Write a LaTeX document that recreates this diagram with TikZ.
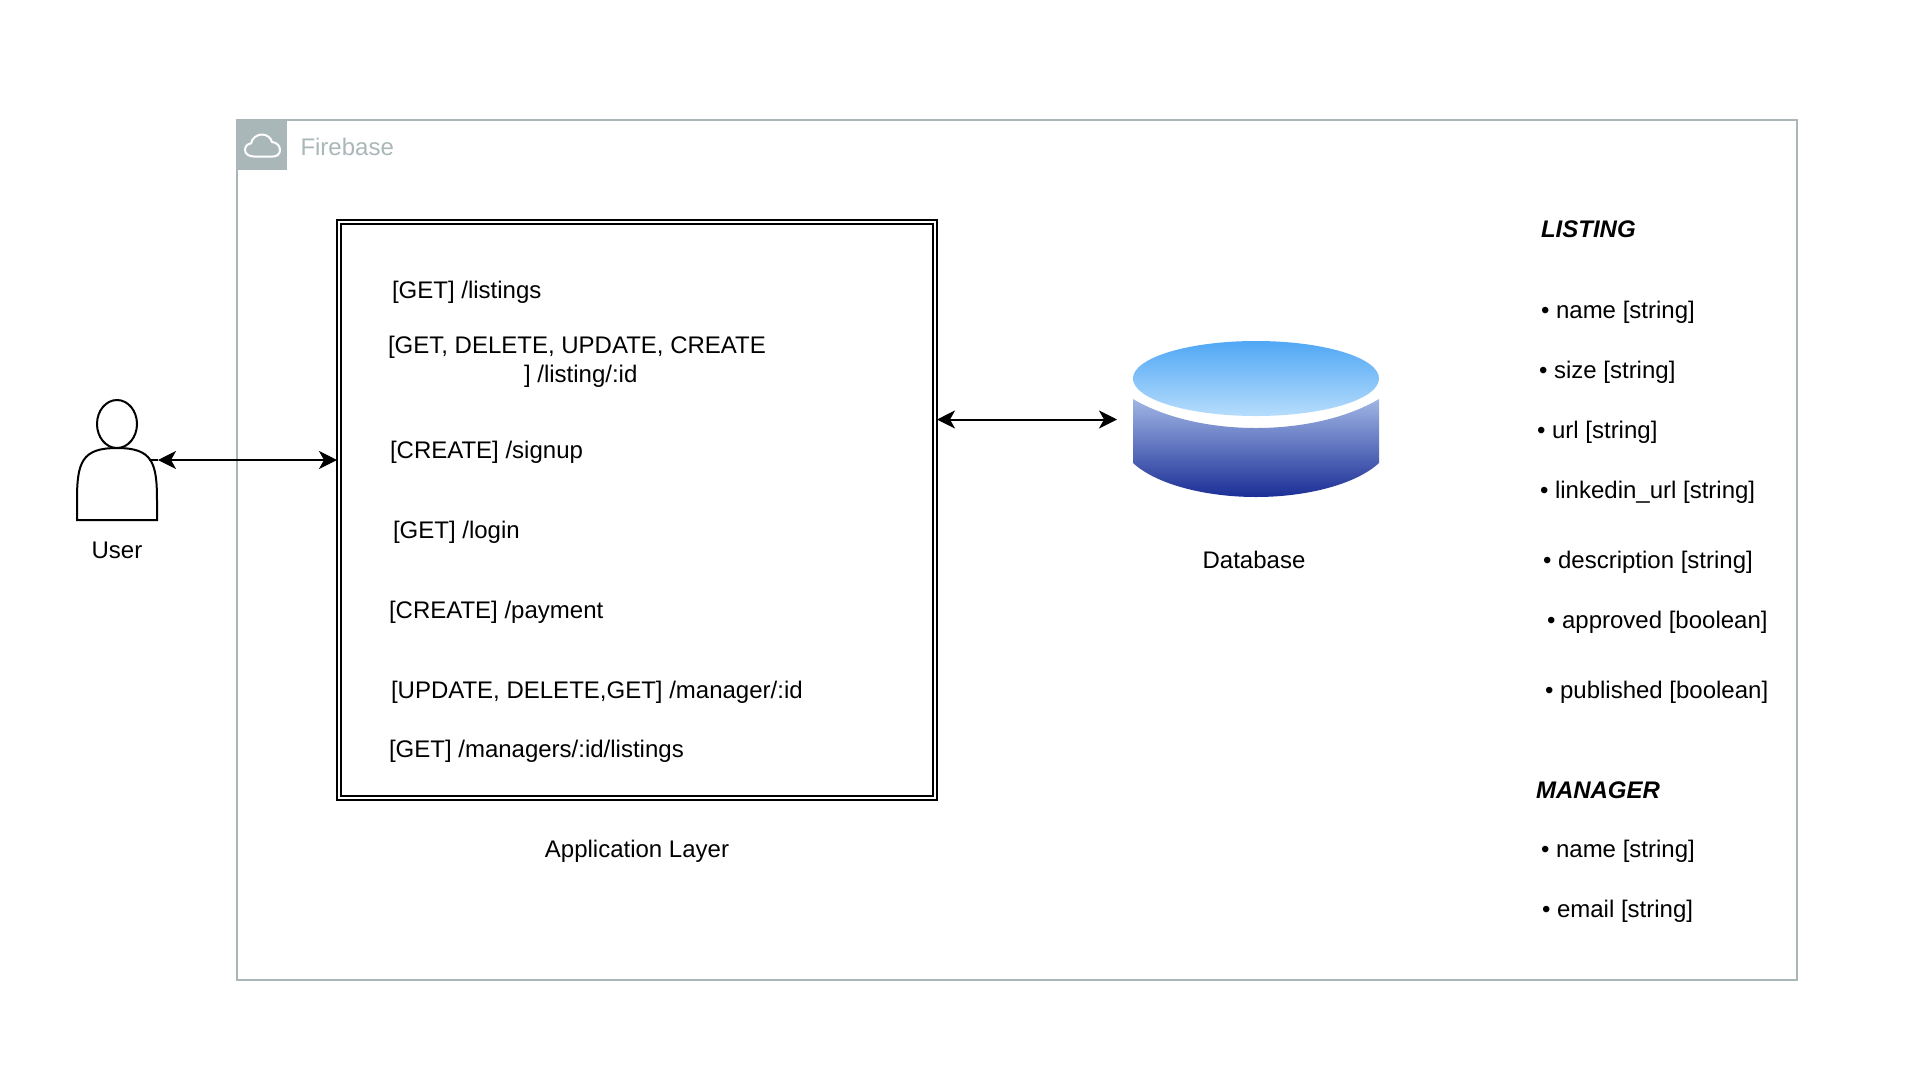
\documentclass[tikz,border=0pt]{standalone}
\usepackage{fontspec}
\setmainfont{Liberation Sans}
\usetikzlibrary{arrows.meta}
\definecolor{fbgrey}{HTML}{AAB7B8}
\tikzset{
  x=0.5pt,y=-0.5pt,
  lbl/.style={font=\fontsize{12pt}{14pt}\selectfont,inner sep=0pt,outer sep=0pt,text height=9.6pt,text depth=1.5pt},
  ltext/.style={lbl,anchor=west},
  ctext/.style={lbl,anchor=center},
  head/.style={ltext,font=\fontsize{12pt}{14pt}\selectfont\bfseries\itshape},
  twoway/.style={line width=1pt,{Stealth[length=9pt,width=9pt,inset=2.5pt]}-{Stealth[length=9pt,width=9pt,inset=2.5pt]}},
  appbox/.style={draw=black,line width=1pt,rectangle,inner sep=0pt,outer sep=0pt},
  shapeline/.style={draw=black,line width=1pt},
}
\begin{document}
\begin{tikzpicture}
\useasboundingbox[fill=white] (0,0) rectangle (1932,1072);
% container
\node[draw=fbgrey,line width=1pt,rectangle,inner sep=0pt,outer sep=0pt,minimum width=780pt,minimum height=430pt] (firebase) at (1017,549.5) {};
\node[fill=fbgrey,rectangle,inner sep=0pt,outer sep=0pt,minimum width=25.5pt,minimum height=25.5pt] (fbicon) at (261.5,144.5) {};
\draw[white,line width=1pt,line join=round] (254,156.5) .. controls (249,156.5) and (245,154) .. (245,150) .. controls (245,146) and (248,143.5) .. (251,143.5) .. controls (252,138) and (257,134.5) .. (262,134.5) .. controls (267,134.5) and (271,138) .. (272,142) .. controls (277,142.5) and (280,146) .. (280,150) .. controls (280,154) and (277,156.5) .. (273,156.5) -- cycle;
\node[ltext,text=fbgrey] (fbtitle) at (300.5,147) {Firebase};
% application box
\node[appbox,minimum width=300pt,minimum height=290pt] (app) at (637,510) {};
\node[appbox,minimum width=296pt,minimum height=286pt] (appinner) at (637,510) {};
\node[ltext] (r1) at (392,290) {[GET] /listings};
\node[ltext] (r2a) at (388,345) {[GET, DELETE, UPDATE, CREATE};
\node[ltext] (r2b) at (524,374) {] /listing/:id};
\node[ltext] (r3) at (390,450) {[CREATE] /signup};
\node[ltext] (r4) at (393,530) {[GET] /login};
\node[ltext] (r5) at (389,610) {[CREATE] /payment};
\node[ltext] (r6) at (391,690) {[UPDATE, DELETE,GET] /manager/:id};
\node[ltext] (r7) at (389,749) {[GET] /managers/:id/listings};
\node[ctext] (applabel) at (637,849) {Application Layer};
% user
\draw[shapeline] (117,424) ellipse [x radius=20,y radius=24];
\draw[shapeline,fill=white] (77,520) -- (77,500) .. controls (77,462) and (82,448) .. (117,448) .. controls (152,448) and (157,462) .. (157,500) -- (157,520) -- cycle;
\node[ctext] (userlabel) at (117,550) {User};
\coordinate (ub) at (149,460);
\coordinate (ut) at (158,460);
\draw[line width=1pt] (ub) -- (ut);
\draw[twoway] (ut) -- (ut -| app.west);
% database
\shade[top color={rgb,255:red,160;green,182;blue,228},bottom color={rgb,255:red,27;green,46;blue,150}]
  (1133,399) .. controls (1165,418) and (1210,428) .. (1256,428) .. controls (1302,428) and (1347,418) .. (1379,399) -- (1379,463) .. controls (1355,485) and (1305,497) .. (1256,497) .. controls (1207,497) and (1157,485) .. (1133,463) -- cycle;
\shade[top color={rgb,255:red,80;green,167;blue,245},bottom color={rgb,255:red,182;green,221;blue,252}] (1256,378.5) ellipse [x radius=123,y radius=37.5];
\node[ctext] (dblabel) at (1254,560) {Database};
\coordinate (dbl) at (1117,419.5);
\draw[twoway] (dbl -| app.east) -- (dbl);
% schema
\node[head] (listing) at (1541,229) {LISTING};
\node[ltext] (l1) at (1541,310) {• name [string]};
\node[ltext] (l2) at (1539,370) {• size [string]};
\node[ltext] (l3) at (1537,430) {• url [string]};
\node[ltext] (l4) at (1540,490) {• linkedin\_url [string]};
\node[ltext] (l5) at (1543,560) {• description [string]};
\node[ltext] (l6) at (1547,620) {• approved [boolean]};
\node[ltext] (l7) at (1545,690) {• published [boolean]};
\node[head] (manager) at (1536,790) {MANAGER};
\node[ltext] (m1) at (1541,849) {• name [string]};
\node[ltext] (m2) at (1542,909) {• email [string]};
\end{tikzpicture}
\end{document}
